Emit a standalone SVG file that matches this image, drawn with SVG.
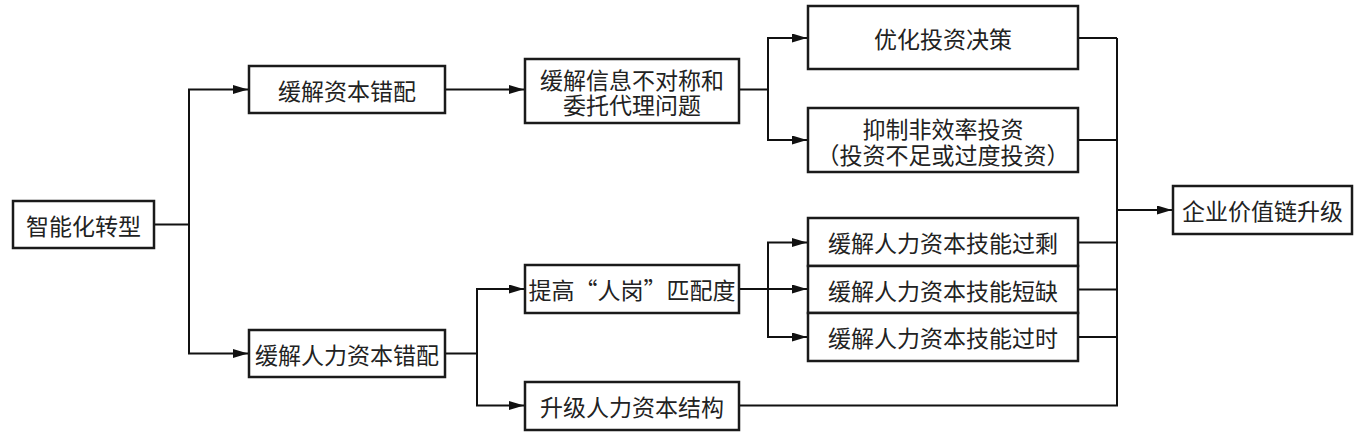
<svg xmlns="http://www.w3.org/2000/svg" width="1359" height="432" viewBox="0 0 1359 432">
<style>
.box{fill:#fff;stroke:#1a1a1a;stroke-width:2.5}
.t{font-family:"Noto Sans CJK SC","Liberation Sans",sans-serif;font-size:23px;fill:#222;text-anchor:middle;dominant-baseline:central}
.c{fill:none;stroke:#111;stroke-width:2}
</style>
<defs>
<marker id="ah" markerUnits="userSpaceOnUse" markerWidth="16" markerHeight="10" refX="15" refY="4.5" orient="auto">
<path d="M0,0 L15,4.5 L0,9 z" fill="#111"/>
</marker>
</defs>
<rect width="1359" height="432" fill="#fff"/>
<g id="connectors">
<path class="c" d="M154,224.5 H189 V89.5 H248" marker-end="url(#ah)"/>
<path class="c" d="M189,224.5 V353.5 H248" marker-end="url(#ah)"/>
<path class="c" d="M445,89.5 H524" marker-end="url(#ah)"/>
<path class="c" d="M739,89.5 H768 V38 H807" marker-end="url(#ah)"/>
<path class="c" d="M768,89.5 V140 H807" marker-end="url(#ah)"/>
<path class="c" d="M445,353.5 H477 V289 H524" marker-end="url(#ah)"/>
<path class="c" d="M477,353.5 V405.5 H524" marker-end="url(#ah)"/>
<path class="c" d="M739,289 H768 V242.5 H807" marker-end="url(#ah)"/>
<path class="c" d="M768,289 H807" marker-end="url(#ah)"/>
<path class="c" d="M768,289 V337 H807" marker-end="url(#ah)"/>
<path class="c" d="M1078,38 H1117"/>
<path class="c" d="M1078,140 H1117"/>
<path class="c" d="M1078,242.5 H1117"/>
<path class="c" d="M1078,289.5 H1117"/>
<path class="c" d="M1078,337 H1117"/>
<path class="c" d="M739,405.5 H1117 V38"/>
<path class="c" d="M1117,210 H1172" marker-end="url(#ah)"/>
</g>
<g id="n1"><rect class="box" x="13" y="201" width="141" height="47"/><text class="t" x="83.5" y="224.5">智能化转型</text></g>
<g id="n2"><rect class="box" x="249" y="66" width="196" height="47"/><text class="t" x="347" y="89.5">缓解资本错配</text></g>
<g id="n3"><rect class="box" x="249" y="330" width="196" height="47"/><text class="t" x="347" y="353.5">缓解人力资本错配</text></g>
<g id="n4"><rect class="box" x="525" y="59" width="214" height="64"/><text class="t"><tspan x="632" y="79">缓解信息不对称和</tspan><tspan x="632" y="104">委托代理问题</tspan></text></g>
<g id="n5"><rect class="box" x="808" y="6" width="270" height="63"/><text class="t" x="943" y="38">优化投资决策</text></g>
<g id="n6"><rect class="box" x="808" y="108" width="270" height="64"/><text class="t"><tspan x="943" y="127.5">抑制非效率投资</tspan><tspan x="943" y="153.5">（投资不足或过度投资）</tspan></text></g>
<g id="n7"><rect class="box" x="525" y="265" width="214" height="48"/><text class="t" x="632" y="289">提高“人岗”匹配度</text></g>
<g id="n8"><rect class="box" x="525" y="382" width="214" height="48"/><text class="t" x="632" y="406">升级人力资本结构</text></g>
<g id="n9"><rect class="box" x="808" y="218" width="270" height="48"/><text class="t" x="943" y="242">缓解人力资本技能过剩</text></g>
<g id="n10"><rect class="box" x="808" y="266" width="270" height="47"/><text class="t" x="943" y="289.5">缓解人力资本技能短缺</text></g>
<g id="n11"><rect class="box" x="808" y="313" width="270" height="48"/><text class="t" x="943" y="337">缓解人力资本技能过时</text></g>
<g id="n12"><rect class="box" x="1173" y="186" width="179" height="48"/><text class="t" x="1262.5" y="210">企业价值链升级</text></g>
</svg>
